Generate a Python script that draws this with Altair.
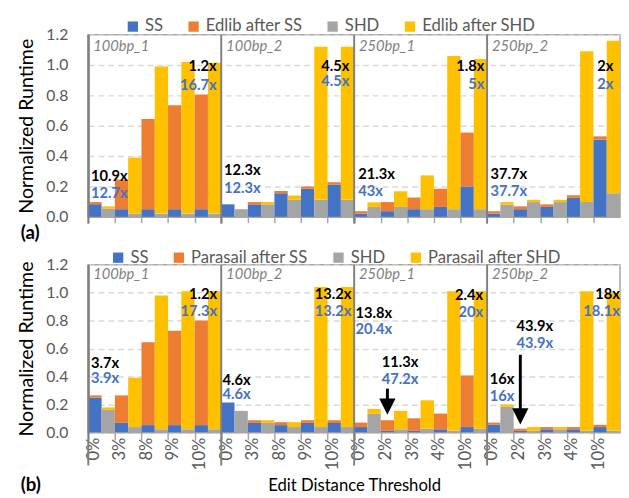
import altair as alt
import pandas as pd

datasets = ["100bp_1", "100bp_2", "250bp_1", "250bp_2"]
thresholds_100 = ["0%", "3%", "8%", "9%", "10%"]
thresholds_250 = ["0%", "2%", "3%", "4%", "10%"]

series_a = ["SS", "Edlib after SS", "SHD", "Edlib after SHD"]
series_b = ["SS", "Parasail after SS", "SHD", "Parasail after SHD"]
colors = ["#4472C4", "#ED7D31", "#A5A5A5", "#FFC000"]

# ---- (a) Edlib: rows = datasets, columns = thresholds
a_ss = [[0.083, 0.05, 0.05, 0.05, 0.05],
        [0.082, 0.082, 0.155, 0.185, 0.213],
        [0.021, 0.037, 0.05, 0.065, 0.2],
        [0.021, 0.05, 0.065, 0.125, 0.51]]
a_after_ss = [[0.014, 0.195, 0.595, 0.685, 0.755],
              [0.0, 0.015, 0.015, 0.015, 0.015],
              [0.016, 0.06, 0.077, 0.12, 0.355],
              [0.016, 0.019, 0.017, 0.017, 0.02]]
a_shd = [[0.054, 0.021, 0.021, 0.021, 0.021],
         [0.05, 0.082, 0.112, 0.112, 0.112],
         [0.065, 0.065, 0.05, 0.05, 0.05],
         [0.08, 0.097, 0.097, 0.097, 0.155]]
a_after_shd = [[0.015, 0.369, 0.969, 0.999, 0.994],
               [0.0, 0.015, 0.028, 1.008, 1.008],
               [0.03, 0.103, 0.223, 1.01, 0.99],
               [0.017, 0.015, 0.015, 0.993, 1.005]]

# ---- (b) Parasail
b_ss = [[0.248, 0.067, 0.051, 0.051, 0.051],
        [0.213, 0.067, 0.051, 0.067, 0.067],
        [0.037, 0.01, 0.01, 0.021, 0.037],
        [0.053, 0.01, 0.021, 0.021, 0.037]]
b_after_ss = [[0.016, 0.197, 0.594, 0.676, 0.749],
              [0.0, 0.019, 0.021, 0.019, 0.019],
              [0.032, 0.076, 0.09, 0.113, 0.37],
              [0.016, 0.015, 0.016, 0.016, 0.016]]
b_shd = [[0.16, 0.037, 0.021, 0.021, 0.021],
         [0.153, 0.067, 0.037, 0.037, 0.037],
         [0.132, 0.021, 0.025, 0.01, 0.025],
         [0.183, 0.01, 0.021, 0.01, 0.01]]
b_after_shd = [[0.018, 0.353, 0.959, 0.989, 0.989],
               [0.0, 0.019, 0.035, 1.003, 1.003],
               [0.035, 0.132, 0.204, 1.0, 0.985],
               [0.016, 0.027, 0.016, 1.0, 0.99]]

# ---- speedup annotations: text, colour (k=black, b=blue), x (bar units), y, align
a_note_text = ["10.9x", "12.7x", "1.2x", "16.7x", "12.3x", "12.3x", "4.5x", "4.5x",
               "21.3x", "43x", "1.8x", "5x", "37.7x", "37.7x", "2x", "2x"]
a_note_col = ["k", "b"] * 8
a_note_x = [0.2, 0.2, 9.65, 9.65, 10.2, 10.2, 19.65, 19.65,
            20.3, 20.3, 29.8, 29.8, 30.25, 30.25, 39.5, 39.5]
a_note_y = [0.265, 0.155, 0.99, 0.87, 0.31, 0.19, 0.99, 0.895,
            0.28, 0.17, 0.99, 0.875, 0.28, 0.17, 0.99, 0.875]
a_note_align = ["left", "left", "right", "right", "left", "left", "right", "right",
                "left", "left", "right", "right", "left", "left", "right", "right"]

b_note_text = ["3.7x", "3.9x", "1.2x", "17.3x", "4.6x", "4.6x", "13.2x", "13.2x",
               "13.8x", "20.4x", "11.3x", "47.2x", "2.4x", "20x",
               "16x", "16x", "43.9x", "43.9x", "18x", "18.1x"]
b_note_col = ["k", "b"] * 10
b_note_x = [0.2, 0.2, 9.7, 9.7, 10.1, 10.1, 19.8, 19.8,
            20.1, 20.1, 23.45, 23.45, 29.7, 29.7,
            30.2, 30.2, 33.6, 33.6, 40.0, 40.0]
b_note_y = [0.495, 0.39, 0.99, 0.87, 0.37, 0.27, 0.99, 0.87,
            0.855, 0.74, 0.50, 0.38, 0.98, 0.86,
            0.38, 0.26, 0.76, 0.64, 0.99, 0.87]
b_note_align = ["left", "left", "right", "right", "left", "left", "right", "right",
                "left", "left", "center", "center", "right", "right",
                "left", "left", "center", "center", "right", "right"]

# arrows in (b): x (bar units), start value, tip value
b_arrow_x = [22.5, 32.5]
b_arrow_from = [0.3125, 0.555]
b_arrow_to = [0.125, 0.055]

FONT = "Lato"
XS = alt.Scale(domain=[0, 40], nice=False, zero=False)
YS = alt.Scale(domain=[0, 1.2], nice=False)


def bars_frame(ss, aft_ss, shd, aft_shd, names):
    rows = []
    for g in range(4):
        for t in range(5):
            p = g * 5 + t
            pairs = [(ss, aft_ss, names[0], names[1]), (shd, aft_shd, names[2], names[3])]
            for k, (base, top, nb, nt) in enumerate(pairs):
                b = base[g][t]
                s = top[g][t]
                x0 = 2 * p + k
                rows.append(dict(x0=x0, x1=x0 + 1, lo=0.0, hi=b, series=nb))
                rows.append(dict(x0=x0, x1=x0 + 1, lo=b, hi=b + s, series=nt))
    return pd.DataFrame(rows)


def panel(ss, aft_ss, shd, aft_shd, names, notes, arrows, height, bottom, letter,
          legend_x, legend_y, letter_y):
    df = bars_frame(ss, aft_ss, shd, aft_shd, names)
    if bottom:
        labs = thresholds_100 + thresholds_100 + thresholds_250 + thresholds_250
        expr = "[" + ",".join("'" + l + "'" for l in labs) + "][datum.value/2]"
        xaxis = alt.Axis(values=list(range(0, 40, 2)), labels=True, labelExpr=expr,
                         labelAngle=270, labelFontSize=17, labelColor="#595959",
                         labelPadding=-3, labelOffset=5, labelFlush=False,
                         labelOverlap=False, ticks=True, tickSize=8,
                         tickColor="#a6a6a6", tickWidth=1.5, domainColor="#a6a6a6",
                         domainWidth=1.5, grid=False, title="Edit Distance Threshold",
                         titleFontSize=17, titleFontWeight="normal", titleColor="#000000",
                         titlePadding=8)
    else:
        xaxis = alt.Axis(values=list(range(0, 40, 2)), labels=False, ticks=True,
                         tickSize=6, tickColor="#a6a6a6", tickWidth=1.5,
                         domainColor="#a6a6a6", domainWidth=1.5, grid=False, title=None)
    yaxis = alt.Axis(values=[0, 0.2, 0.4, 0.6, 0.8, 1.0, 1.2], format=".1f", ticks=False,
                     labelPadding=21, labelFontSize=16, labelColor="#595959",
                     domainColor="#808080", domainWidth=2, grid=True, gridDash=[6, 4],
                     gridColor="#d9d9d9", gridWidth=1.5, title="Normalized Runtime",
                     titleFontSize=20, titleFontWeight="normal", titleColor="#000000",
                     titlePadding=10)

    def X(f):
        return alt.X(f, scale=XS, axis=xaxis, title=xaxis.title if bottom else None)

    def Y(f):
        return alt.Y(f, scale=YS, axis=yaxis, title="Normalized Runtime")

    bars = alt.Chart(df).mark_bar().encode(
        x=X("x0:Q"),
        x2="x1",
        y=Y("lo:Q"),
        y2="hi",
        color=alt.Color("series:N", scale=alt.Scale(domain=names, range=colors),
                        legend=alt.Legend(orient="none", legendX=legend_x, legendY=legend_y,
                                          direction="horizontal", title=None,
                                          symbolType="square", symbolSize=110,
                                          symbolStrokeWidth=0, labelFontSize=17,
                                          labelColor="#595959", columnPadding=22,
                                          labelOffset=4, labelFont=FONT)),
    )

    seps = alt.Chart(pd.DataFrame({"gx": [0, 10, 20, 30]})).mark_rule(
        color="#808080", strokeWidth=2
    ).encode(x=X("gx:Q"), y=alt.value(0),
             y2=alt.value(height + (34 if bottom else 7)))

    gtitles = alt.Chart(pd.DataFrame({"gx": [0, 10, 20, 30], "name": datasets})).mark_text(
        align="left", baseline="middle", dx=5, fontSize=15, fontStyle="italic",
        color="#7f7f7f", font=FONT
    ).encode(x=X("gx:Q"), y=alt.value(12 if not bottom else 10),
             text="name:N")

    layers = [bars, seps, gtitles]

    ntext, ncol, nx, ny, nal = notes
    ndf = pd.DataFrame({"t": ntext, "c": ncol, "x": nx, "y": ny, "a": nal})
    for al in ["left", "right", "center"]:
        for c, colr in [("k", "#000000"), ("b", "#4472C4")]:
            sub = ndf[(ndf.a == al) & (ndf.c == c)]
            if len(sub) == 0:
                continue
            layers.append(alt.Chart(sub).mark_text(
                align=al, baseline="middle", fontSize=15, fontWeight="bold",
                color=colr, font=FONT
            ).encode(x=X("x:Q"), y=Y("y:Q"), text="t:N"))

    if arrows is not None:
        ax, af, at = arrows
        adf = pd.DataFrame({"x": ax, "y0": af, "y1": at,
                            "yb": [v + 0.05 for v in at]})
        layers.append(alt.Chart(adf).mark_rule(color="#000000", strokeWidth=3).encode(
            x=X("x:Q"), y=Y("y0:Q"), y2="yb"))
        layers.append(alt.Chart(adf).mark_point(
            shape="M-0.5,-1L0.5,-1L0,0Z", filled=True, color="#000000",
            opacity=1, size=1100, strokeWidth=0
        ).encode(x=X("x:Q"), y=Y("y1:Q")))

    layers.append(alt.Chart(pd.DataFrame({"t": [letter]})).mark_text(
        align="left", baseline="middle", fontSize=19, fontWeight="bold",
        color="#000000", font=FONT
    ).encode(x=alt.value(-69), y=alt.value(letter_y), text="t:N"))

    return alt.layer(*layers).properties(width=543, height=height)


top = panel(a_ss, a_after_ss, a_shd, a_after_shd, series_a,
            (a_note_text, a_note_col, a_note_x, a_note_y, a_note_align), None,
            186, False, "(a)", 37, -17, 186 + 17)
bot = panel(b_ss, b_after_ss, b_shd, b_after_shd, series_b,
            (b_note_text, b_note_col, b_note_x, b_note_y, b_note_align),
            (b_arrow_x, b_arrow_from, b_arrow_to),
            171, True, "(b)", 22, -16, 171 + 54)

chart = alt.vconcat(top, bot, spacing=4).resolve_scale(
    color="independent", x="independent", y="independent"
).resolve_legend(color="independent").properties(
    padding={"left": 7, "top": 4, "right": 0, "bottom": 0}
).configure(font=FONT).configure_view(stroke="#a6a6a6", strokeWidth=1.5)

chart.save("out.html", embed_options={"renderer": "svg", "actions": False})
